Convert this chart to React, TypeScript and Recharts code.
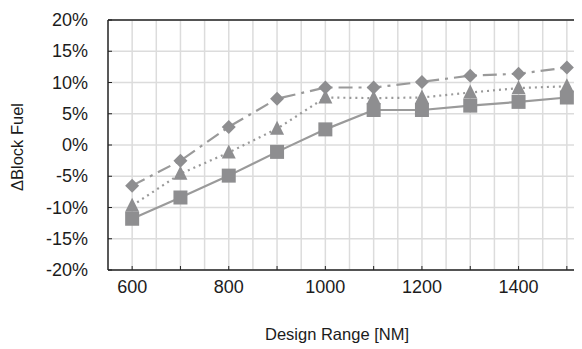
import { CartesianGrid, Label, Line, LineChart, ReferenceLine, XAxis, YAxis } from "recharts"

const ranges = [600, 700, 800, 900, 1000, 1100, 1200, 1300, 1400, 1500]
const squareSeries = [-11.8, -8.4, -4.9, -1.1, 2.5, 5.6, 5.6, 6.3, 6.9, 7.6]
const triangleSeries = [-9.7, -4.6, -1.2, 2.6, 7.6, 7.5, 7.6, 8.4, 9.1, 9.4]
const diamondSeries = [-6.5, -2.5, 2.9, 7.4, 9.2, 9.2, 10.1, 11.1, 11.4, 12.4]

const xTicks = [600, 700, 800, 900, 1000, 1100, 1200, 1300, 1400, 1500]
const xLabelTicks = [600, 800, 1000, 1200, 1400]
const xGrid = [600, 650, 700, 750, 800, 850, 900, 950, 1000, 1050, 1100, 1150, 1200, 1250, 1300, 1350, 1400, 1450, 1500, 1550]
const yTicks = [-20, -15, -10, -5, 0, 5, 10, 15, 20]

const data = ranges.map((r, i) => ({
  range: r,
  square: squareSeries[i],
  triangle: triangleSeries[i],
  diamond: diamondSeries[i],
}))

const FONT = "'Liberation Sans', Arial, sans-serif"
const TICK_FS = 18
const TITLE_FS = 16.5
const TEXT = "#1c1c1c"
const LINE = "#9a9a9a"
const MARK = "#8e8e90"

// custom markers
const SquareDot = (p: any) => {
  const { cx, cy, index } = p
  return <rect key={`sq-${index}`} x={cx - 7} y={cy - 7} width={14} height={14} fill={MARK} />
}
const TriangleDot = (p: any) => {
  const { cx, cy, index } = p
  return <polygon key={`tr-${index}`} points={`${cx},${cy - 8} ${cx + 7},${cy + 6} ${cx - 7},${cy + 6}`} fill={MARK} />
}
const DiamondDot = (p: any) => {
  const { cx, cy, index } = p
  return <polygon key={`di-${index}`} points={`${cx},${cy - 7} ${cx + 7},${cy} ${cx},${cy + 7} ${cx - 7},${cy}`} fill={MARK} />
}

// tick x/y already include tickSize + tickMargin (8px) away from the axis line
const XTick = (p: any) => {
  const { x, y, payload } = p
  const v = payload.value
  return (
    <g>
      <line x1={x} x2={x} y1={y - 8} y2={y - 12} stroke="#222" strokeWidth={1} />
      {xLabelTicks.includes(v) && (
        <text x={x} y={y + 15} textAnchor="middle" fontSize={TICK_FS} fontFamily={FONT} fill={TEXT}>
          {v}
        </text>
      )}
    </g>
  )
}

const YTick = (p: any) => {
  const { x, y, payload } = p
  return (
    <g>
      <line x1={x + 8} x2={x + 12} y1={y} y2={y} stroke="#222" strokeWidth={1} />
      <text x={x - 12} y={y + 6} textAnchor="end" fontSize={TICK_FS} fontFamily={FONT} fill={TEXT}>
        {`${payload.value}%`}
      </text>
    </g>
  )
}

export default function App() {
  return (
    <div style={{ width: 574, height: 341, overflow: "hidden" }}>
      <LineChart width={583} height={341} data={data} margin={{ top: 12, right: 0, left: 40, bottom: 0 }}>
        <CartesianGrid
          stroke="#dcdcdc"
          strokeWidth={1.5}
          verticalValues={xGrid}
          horizontalValues={yTicks}
        />
        <ReferenceLine y={20} stroke="#222" strokeWidth={1.5} />
        <XAxis
          dataKey="range"
          type="number"
          domain={[550, 1550]}
          ticks={xTicks}
          interval={0}
          height={79}
          axisLine={{ stroke: "#222", strokeWidth: 1.5 }}
          tickLine={false}
          tick={<XTick />}
        >
          <Label
            content={() => (
              <text x={329} y={332} textAnchor="middle" fontSize={TITLE_FS} fontFamily={FONT} fill={TEXT}>
                Design Range [NM]
              </text>
            )}
          />
        </XAxis>
        <YAxis
          type="number"
          domain={[-20, 20]}
          ticks={yTicks}
          interval={0}
          width={60}
          axisLine={{ stroke: "#222", strokeWidth: 1.5 }}
          tickLine={false}
          tick={<YTick />}
        >
          <Label
            content={() => (
              <text
                x={15}
                y={139}
                transform="rotate(-90 15 139)"
                textAnchor="middle"
                fontSize={TITLE_FS}
                fontFamily={FONT}
                fill={TEXT}
              >
                ΔBlock Fuel
              </text>
            )}
          />
        </YAxis>
        <Line
          dataKey="square"
          stroke={LINE}
          strokeWidth={2.2}
          dot={SquareDot}
          activeDot={false}
          isAnimationActive={false}
        />
        <Line
          dataKey="triangle"
          stroke={LINE}
          strokeWidth={2.2}
          strokeDasharray="2 4"
          dot={TriangleDot}
          activeDot={false}
          isAnimationActive={false}
        />
        <Line
          dataKey="diamond"
          stroke={LINE}
          strokeWidth={2.2}
          strokeDasharray="14 6 3 6"
          dot={DiamondDot}
          activeDot={false}
          isAnimationActive={false}
        />
      </LineChart>
    </div>
  )
}
